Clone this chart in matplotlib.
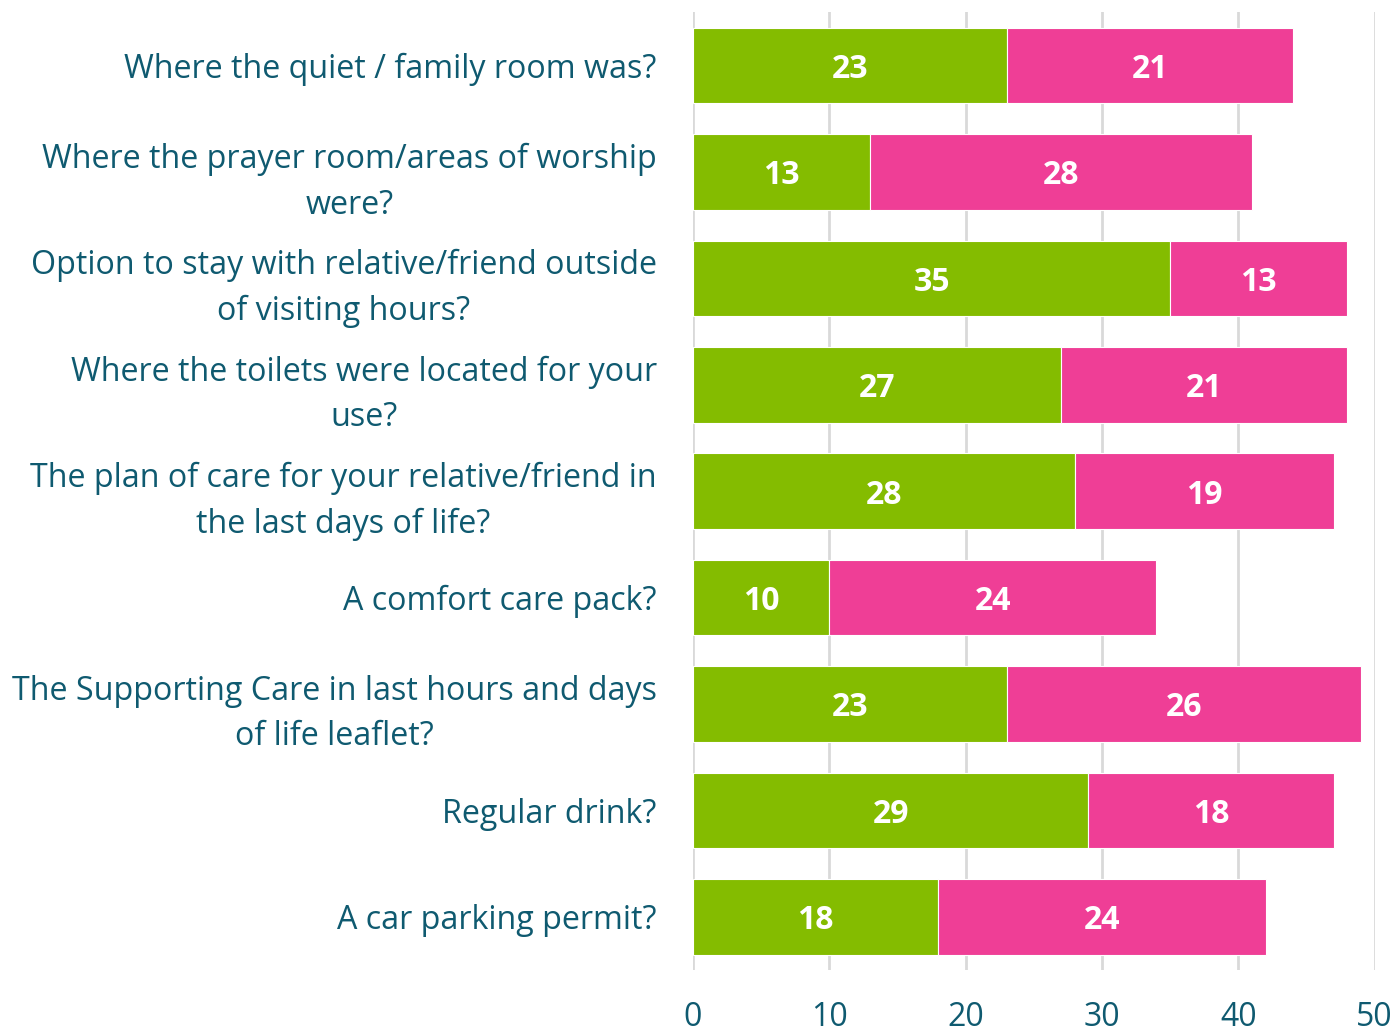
import matplotlib
matplotlib.use("Agg")
import matplotlib.pyplot as plt
import numpy as np

questions = [
    "Where the quiet / family room was?",
    "Where the prayer room/areas of worship\nwere?",
    "Option to stay with relative/friend outside\nof visiting hours?",
    "Where the toilets were located for your\nuse?",
    "The plan of care for your relative/friend in\nthe last days of life?",
    "A comfort care pack?",
    "The Supporting Care in last hours and days\nof life leaflet?",
    "Regular drink?",
    "A car parking permit?",
]
yes_vals = [23, 13, 35, 27, 28, 10, 23, 29, 18]
no_vals = [21, 28, 13, 21, 19, 24, 26, 18, 24]
x_ticks = [0, 10, 20, 30, 40, 50]

green = "#84BC00"
pink = "#EF3E96"
text_col = "#0F5A70"

plt.rcParams['font.family'] = ['Open Sans', 'DejaVu Sans']

fig = plt.figure(figsize=(13.97, 10.33), dpi=100)
ax = fig.add_axes([0.496, 0.061, 0.488, 0.927])

y = np.arange(len(questions))
h = 0.71
ax.barh(y, yes_vals, height=h, color=green, edgecolor="white", linewidth=0.8, zorder=3)
ax.barh(y, no_vals, left=yes_vals, height=h, color=pink, edgecolor="white", linewidth=0.8, zorder=3)

for i in range(len(questions)):
    ax.text(yes_vals[i] / 2, y[i], str(yes_vals[i]), ha="center", va="center_baseline",
            color="white", fontsize=23, fontweight="bold", zorder=4)
    ax.text(yes_vals[i] + no_vals[i] / 2, y[i], str(no_vals[i]), ha="center", va="center_baseline",
            color="white", fontsize=23, fontweight="bold", zorder=4)

ax.set_ylim(len(questions) - 0.5, -0.5)
ax.set_xlim(0, 50)
ax.set_yticks(y)
ax.set_yticklabels(questions, fontsize=23.2, color=text_col,
                   multialignment="center", linespacing=1.5)
ax.set_xticks(x_ticks)
ax.set_xticklabels([str(t) for t in x_ticks], fontsize=23, color=text_col)
ax.tick_params(axis="y", length=0, pad=26)
ax.tick_params(axis="x", length=0, pad=22)

for s in ax.spines.values():
    s.set_visible(False)
ax.grid(axis="x", color="#D9D9D9", linewidth=2, zorder=0)
ax.set_axisbelow(True)

fig.savefig("out.png", dpi=100)
